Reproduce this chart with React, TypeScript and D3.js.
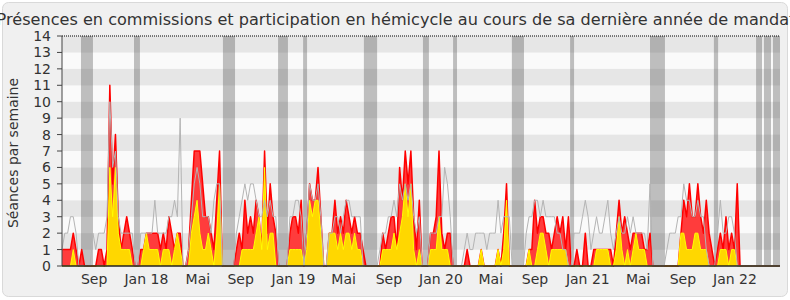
import React from "react";
import * as d3 from "d3";

const TITLE =
  "Présences en commissions et participation en hémicycle au cours de sa dernière année de mandat";
const Y_TITLE = "Séances par semaine";

// weekly values, week 0 = first week of the mandate
const presences: number[] = [
  1,1,1,1,2,1,0,1,0,0, 0,0,0,1,1,0,1,11,5,8,
  3,1,2,3,2,1,0,0,1,1, 2,2,2,2,2,1,2,1,3,2,
  1,2,2,0,0,1,4,7,7,7, 5,3,3,2,1,4,7,0,0,0,
  0,0,1,2,1,4,2,3,2,4, 3,1,7,2,5,3,2,0,0,0,
  0,2,3,3,2,4,0,2,5,4, 4,6,3,0,0,2,2,4,2,3,
  2,4,3,2,3,2,2,1,0,0, 0,0,0,0,2,1,2,3,3,1,
  6,4,7,5,7,3,1,4,0,0, 0,2,2,3,7,2,1,2,2,0,
  0,0,0,0,1,0,0,0,0,1, 0,0,0,0,0,1,0,2,5,0,
  0,0,0,0,0,0,1,1,4,2, 3,3,2,2,1,2,3,2,3,1,
  3,0,0,1,0,0,2,0,0,1, 1,1,1,1,1,1,0,2,4,2,
  3,2,1,2,2,2,2,1,1,2, 0,0,0,0,0,0,0,0,0,0,
  2,4,3,5,3,3,5,3,2,4, 2,1,0,1,2,1,3,1,2,1,
  5,0,0,0,0,0,0,0,0,0, 0,0,0,0,0,0,
];

const participations: number[] = [
  0,0,0,0,1,0,0,0,0,0, 0,0,0,0,0,0,0,6,3,6,
  2,1,1,1,1,0,0,0,0,1, 2,1,1,1,1,0,1,1,1,0,
  1,2,1,0,0,0,2,3,4,2, 1,1,2,1,0,2,5,0,0,0,
  0,0,0,0,1,1,1,1,1,2, 3,1,6,1,2,2,0,0,0,0,
  0,1,1,1,1,1,0,1,4,3, 4,4,2,0,0,2,2,2,1,2,
  1,2,2,1,2,1,1,0,0,0, 0,0,0,0,1,1,1,1,2,1,
  2,3,5,3,5,1,0,1,0,0, 0,1,1,1,3,1,1,1,0,0,
  0,0,0,0,0,0,0,0,0,1, 0,0,0,0,0,1,0,1,4,0,
  0,0,0,0,0,0,1,0,0,1, 2,2,1,0,1,1,1,1,1,1,
  0,0,0,0,0,0,0,0,0,0, 1,1,1,1,1,0,0,1,3,1,
  0,1,0,1,2,1,1,1,0,0, 0,0,0,0,0,0,0,0,0,0,
  2,2,1,1,1,2,2,1,1,1, 0,0,0,0,1,1,1,0,1,1,
  0,0,0,0,0,0,0,0,0,0, 0,0,0,0,0,0,
];

const mediane: number[] = [
  1,2,2,3,3,2,0,0,0,0, 0,2,1,2,2,2,3,10,6,7,
  3,2,2,2,2,2,0,0,2,2, 2,2,2,4,2,2,2,2,3,3,
  4,3,9,0,0,1,3,5,6,5, 3,3,3,2,4,5,5,0,0,0,
  0,0,2,3,4,5,4,5,5,4, 3,3,4,3,4,3,3,0,0,0,
  0,3,3,4,4,3,0,2,5,4, 4,5,3,0,0,2,2,3,3,2,
  3,4,4,3,3,3,3,0,0,0, 0,0,0,1,2,2,3,3,4,3,
  5,4,5,4,5,3,2,3,0,0, 0,2,2,2,3,3,6,5,3,0,
  0,0,0,1,2,1,1,2,2,2, 2,1,2,2,2,4,2,3,3,3,
  0,0,0,0,0,2,3,3,4,4, 3,4,3,3,3,3,2,2,1,1,
  0,0,2,2,2,3,4,3,1,2, 3,2,2,3,4,2,1,2,3,2,
  2,3,2,3,2,2,2,2,1,5, 0,0,0,0,0,1,2,2,2,3,
  3,5,4,4,3,3,4,3,3,1, 0,0,0,2,4,2,2,3,3,2,
  0,0,0,0,0,0,0,0,0,0, 0,0,0,0,0,0,
];

// parliamentary breaks, in weeks [start, end]
const vacancesDebut: number[] = [6.75, 25.6, 57.2, 76.8, 85.7, 107.3, 128.3, 139.0, 159.9, 180.6, 209.0, 231.7, 246.7, 249.5, 252.7];
const vacancesFin: number[] = [11.0, 27.7, 61.5, 80.3, 87.1, 112.0, 130.4, 140.4, 164.2, 182.0, 214.3, 233.2, 248.8, 252.0, 255.2];

const moisLabels: string[] = ["Sep", "Jan 18", "Mai", "Sep", "Jan 19", "Mai", "Sep", "Jan 20", "Mai", "Sep", "Jan 21", "Mai", "Sep", "Jan 22"];
const moisSemaines: number[] = [11.4, 30.0, 48.3, 63.5, 82.3, 100.1, 116.2, 134.7, 152.4, 168.1, 186.9, 204.8, 220.7, 239.2];

const yTicks: number[] = d3.range(0, 15);

export default function App() {
  const W = 790, H = 300;
  const left = 62, right = 780, top = 36, bottom = 266;
  const x = d3.scaleLinear().domain([0, 255.2]).range([left, right]);
  const y = d3.scaleLinear().domain([0, 14]).range([bottom, top]);
  const font = "'DejaVu Sans', Verdana, sans-serif";

  const area = d3.area<number>().x((_, i) => x(i)).y0(y(0)).y1((d) => y(d));
  const line = d3.line<number>().x((_, i) => x(i)).y((d) => y(d));

  return (
    <svg width={W} height={H} style={{ position: "absolute", left: 0, top: 0 }} fontFamily={font}>
      <rect x={0} y={0} width={W} height={H} fill="#ffffff" />
      <rect x={2.5} y={2.5} width={785} height={294} rx={6} fill="#f0f0f0" stroke="#d9d9d9" />
      <text x={W / 2 + 1} y={25} textAnchor="middle" fontSize={16.1} fill="#333">{TITLE}</text>

      {/* stripes */}
      {d3.range(0, 14).map((k) => (
        <rect key={"s" + k} x={left} y={y(k + 1)} width={right - left} height={y(k) - y(k + 1)}
          fill={k % 2 === 1 ? "#e6e6e6" : "#fafafa"} />
      ))}

      {/* breaks */}
      {vacancesDebut.map((s, i) => (
        <rect key={"v" + i} x={x(s)} y={top} width={x(vacancesFin[i]) - x(s)} height={bottom - top}
          fill="#4c4c4c" fillOpacity={0.35} />
      ))}

      <path d={area(presences) || ""} fill="#ff3c3c" />
      <path d={line(presences) || ""} fill="none" stroke="#ff0000" strokeWidth={1.5} strokeLinejoin="round" />
      <path d={area(participations) || ""} fill="#ffd700" />
      <path d={line(participations) || ""} fill="none" stroke="#ffff00" strokeWidth={1} />
      <path d={line(mediane) || ""} fill="none" stroke="#b4b4b4" strokeWidth={1} />

      {/* top dotted line */}
      <line x1={left} x2={right} y1={top} y2={top} stroke="#000" strokeDasharray="1,1" strokeWidth={1} />

      {/* axes */}
      <line x1={left} x2={left} y1={top} y2={bottom} stroke="#444" strokeWidth={1} />
      <line x1={left} x2={right} y1={bottom} y2={bottom} stroke="#222" strokeWidth={1.5} />
      {yTicks.map((t) => (
        <g key={"t" + t}>
          <line x1={left - 5} x2={left} y1={y(t)} y2={y(t)} stroke="#444" />
          <text x={51} y={y(t) + 5} textAnchor="end" fontSize={14} fill="#333">{t}</text>
        </g>
      ))}
      {moisLabels.map((m, i) => (
        <text key={"m" + i} x={x(moisSemaines[i])} y={284} textAnchor="middle" fontSize={14} fill="#333">{m}</text>
      ))}
      <text transform={`translate(18,${(top + bottom) / 2 + 2}) rotate(-90)`} textAnchor="middle" fontSize={14} fill="#333">
        {Y_TITLE}
      </text>
    </svg>
  );
}
